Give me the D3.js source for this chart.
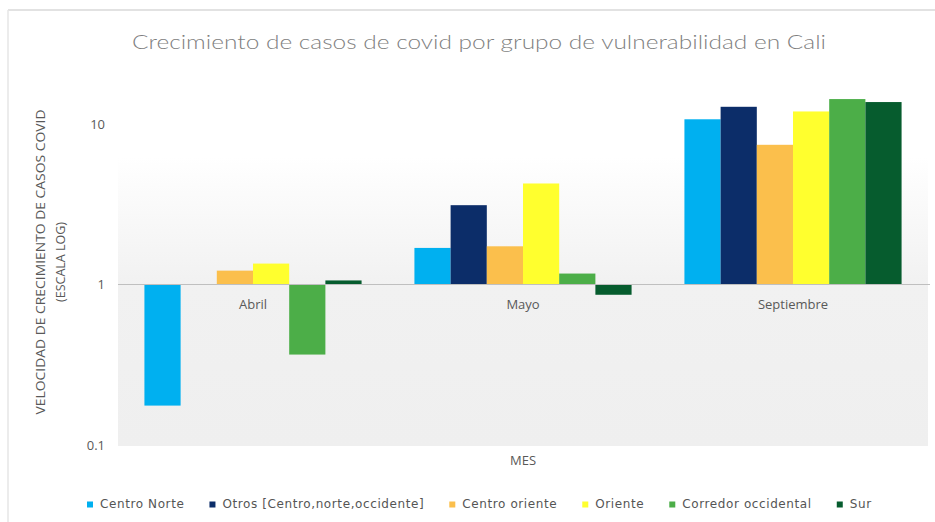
<!DOCTYPE html>
<html>
<head>
<meta charset="utf-8">
<script src="https://cdn.jsdelivr.net/npm/d3@7"></script>
<style>
  body { margin: 0; background: #fff; }
  svg { display: block; }
</style>
</head>
<body>
<div id="chart"></div>
<script>
// ------ DATA ------
const months = ["Abril", "Mayo", "Septiembre"]
const groups = ["Centro Norte", "Otros [Centro,norte,occidente]", "Centro oriente",
                "Oriente", "Corredor occidental", "Sur"]
const colors = ["#00b0f0", "#0c2d69", "#fbbf4c", "#ffff2e", "#4cae48", "#065c2e"]
// growth rate per group, one array per month (null = no bar)
const abril      = [0.176, null, 1.22, 1.35, 0.366, 1.06]
const mayo       = [1.69, 3.12, 1.73, 4.26, 1.17, 0.863]
const septiembre = [10.7, 12.8, 7.42, 11.97, 14.3, 13.7]
const yTicks = [0.1, 1, 10]

const series = [abril, mayo, septiembre]

// ------ LAYOUT ------
const width = 935, height = 522
const plot = {left: 118, right: 928, top: 157, bottom: 446}

const svg = d3.select("#chart").append("svg")
  .attr("width", width)
  .attr("height", height)
  .style("font-family", "'Open Sans', 'DejaVu Sans', sans-serif")

// frame of the chart area
svg.append("line").attr("x1", 8).attr("x2", width).attr("y1", 10).attr("y2", 10)
  .attr("stroke", "#d9d9d9").attr("stroke-width", 1.5)
svg.append("line").attr("x1", 8).attr("x2", 8).attr("y1", 10).attr("y2", height)
  .attr("stroke", "#e6e6e6").attr("stroke-width", 1.5)

// gradient plot background
const grad = svg.append("defs").append("linearGradient")
  .attr("id", "bg").attr("x1", 0).attr("x2", 0).attr("y1", 0).attr("y2", 1)
grad.append("stop").attr("offset", "0%").attr("stop-color", "#ffffff")
grad.append("stop").attr("offset", "45%").attr("stop-color", "#f1f1f1")
grad.append("stop").attr("offset", "100%").attr("stop-color", "#efefef")

svg.append("rect")
  .attr("x", plot.left).attr("y", plot.top)
  .attr("width", plot.right - plot.left).attr("height", plot.bottom - plot.top)
  .attr("fill", "url(#bg)")

// scales
const x0 = d3.scaleBand().domain(months).range([plot.left, plot.right]).paddingInner(0).paddingOuter(0)
const x1 = d3.scaleBand().domain(d3.range(groups.length))
  .range([0, x0.bandwidth()]).paddingOuter(0.73).paddingInner(0)
const y = d3.scaleLog().domain([0.1, 10]).range([445, 124])

// y tick labels
svg.append("g").selectAll("text")
  .data(yTicks)
  .join("text")
  .attr("x", 105)
  .attr("y", d => y(d))
  .attr("dy", "0.35em")
  .attr("text-anchor", "end")
  .attr("font-size", 13)
  .attr("fill", "#595959")
  .text(d => d)

// bars (from the 1 baseline, Excel-style log chart)
const bars = svg.append("g")
months.forEach(function(m, i) {
  bars.selectAll(null)
    .data(series[i].map((v, j) => ({v: v, j: j})).filter(d => d.v != null))
    .join("rect")
    .attr("x", d => x0(m) + x1(d.j))
    .attr("width", x1.bandwidth())
    .attr("y", d => Math.min(y(d.v), y(1)))
    .attr("height", d => Math.abs(y(d.v) - y(1)))
    .attr("fill", d => colors[d.j])
})

// horizontal axis line at 1
svg.append("line")
  .attr("x1", plot.left).attr("x2", plot.right + 2)
  .attr("y1", y(1)).attr("y2", y(1))
  .attr("stroke", "#bfbfbf").attr("stroke-width", 1)

// category labels
svg.append("g").selectAll("text")
  .data(months)
  .join("text")
  .attr("x", d => x0(d) + x0.bandwidth() / 2)
  .attr("y", y(1) + 24)
  .attr("text-anchor", "middle")
  .attr("font-size", 13)
  .attr("fill", "#595959")
  .text(d => d)

// axis titles
svg.append("text")
  .attr("x", x0("Mayo") + x0.bandwidth() / 2)
  .attr("y", 465)
  .attr("text-anchor", "middle")
  .attr("font-size", 13)
  .attr("fill", "#595959")
  .text("MES")

const yTitle = svg.append("text")
  .attr("transform", "translate(45,262) rotate(-90)")
  .attr("text-anchor", "middle")
  .attr("font-size", 12.5)
  .attr("fill", "#595959")
yTitle.append("tspan").attr("x", 0).attr("y", 0)
  .attr("textLength", 305).attr("lengthAdjust", "spacingAndGlyphs")
  .text("VELOCIDAD DE CRECIMIENTO DE CASOS COVID")
yTitle.append("tspan").attr("x", 0).attr("y", 20)
  .text("(ESCALA LOG)")

// title
svg.append("text")
  .attr("x", 479)
  .attr("y", 49)
  .attr("text-anchor", "middle")
  .attr("font-size", 20)
  .attr("font-weight", 300)
  .style("font-family", "Lato, 'Open Sans', sans-serif")
  .attr("fill", "#7f7f7f")
  .attr("textLength", 694)
  .attr("lengthAdjust", "spacingAndGlyphs")
  .text("Crecimiento  de casos de covid por grupo de vulnerabilidad  en Cali")

// legend
const legend = svg.append("g").attr("font-size", 12).attr("fill", "#555555")
let lx = 87
groups.forEach(function(g, i) {
  legend.append("rect")
    .attr("x", lx).attr("y", 501.5).attr("width", 6).attr("height", 6)
    .attr("fill", colors[i])
  const t = legend.append("text")
    .attr("x", lx + 13).attr("y", 508)
    .style("font-family", "'DejaVu Sans', sans-serif")
    .style("letter-spacing", "0.6px")
    .text(g)
  lx = lx + 13 + t.node().getComputedTextLength() + 25
})
</script>
</body>
</html>
